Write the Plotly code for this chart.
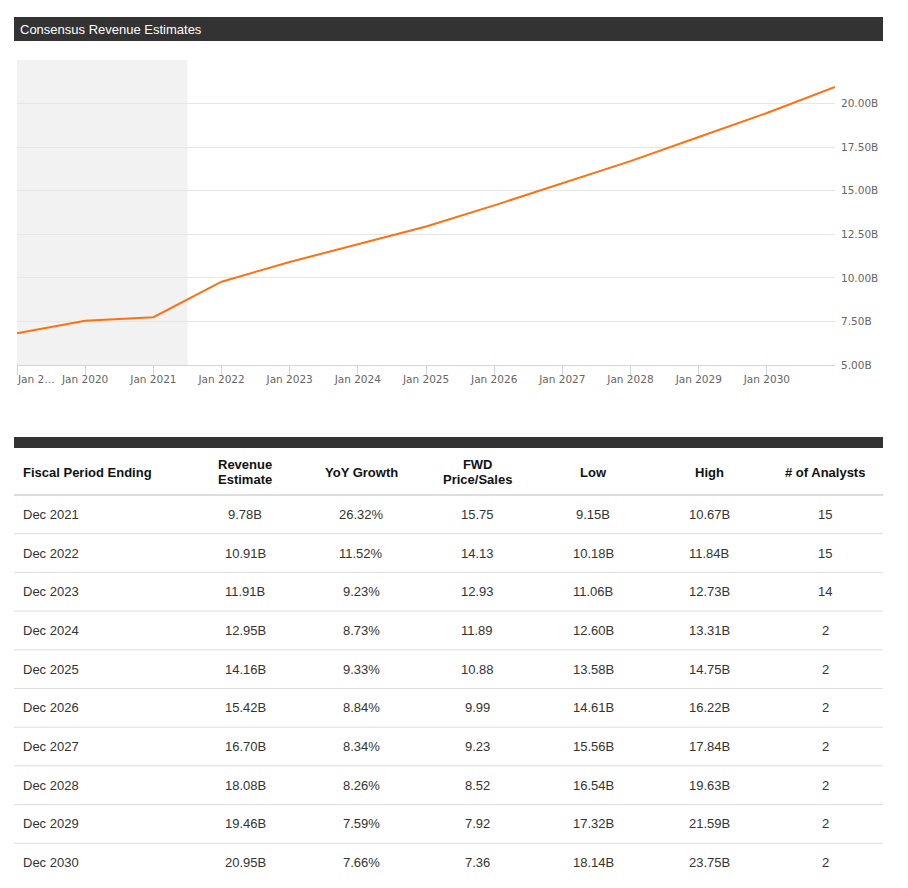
import plotly.graph_objects as go

# page body has an 8px margin; figure sized so the page fits inside the 908x888 window
OFF = 8
W, H = 908 - 2 * OFF, 866

# ---------------- data ----------------
period_dates = ["2018-12-31", "2019-12-31", "2020-12-31", "2021-12-31", "2022-12-31",
                "2023-12-31", "2024-12-31", "2025-12-31", "2026-12-31", "2027-12-31",
                "2028-12-31", "2029-12-31", "2030-12-31"]
revenue_b = [6.82, 7.54, 7.74, 9.78, 10.91, 11.91, 12.95, 14.16, 15.42, 16.70, 18.08, 19.46, 20.95]

x_tickvals = ["2018-12-31", "2019-12-31", "2020-12-31", "2021-12-31", "2022-12-31",
              "2023-12-31", "2024-12-31", "2025-12-31", "2026-12-31", "2027-12-31",
              "2028-12-31", "2029-12-31"]
x_ticktext = ["", "Jan 2020", "Jan 2021", "Jan 2022", "Jan 2023", "Jan 2024",
              "Jan 2025", "Jan 2026", "Jan 2027", "Jan 2028", "Jan 2029", "Jan 2030"]
first_tick_label = "Jan 2…"
y_tickvals = [5, 7.5, 10, 12.5, 15, 17.5, 20]
y_ticktext = ["5.00B", "7.50B", "10.00B", "12.50B", "15.00B", "17.50B", "20.00B"]

headers = ["Fiscal Period Ending", "Revenue<br>Estimate", "YoY Growth", "FWD<br>Price/Sales",
           "Low", "High", "# of Analysts"]
fiscal_period = ["Dec 2021", "Dec 2022", "Dec 2023", "Dec 2024", "Dec 2025",
                 "Dec 2026", "Dec 2027", "Dec 2028", "Dec 2029", "Dec 2030"]
rev_estimate = ["9.78B", "10.91B", "11.91B", "12.95B", "14.16B",
                "15.42B", "16.70B", "18.08B", "19.46B", "20.95B"]
yoy_growth = ["26.32%", "11.52%", "9.23%", "8.73%", "9.33%",
              "8.84%", "8.34%", "8.26%", "7.59%", "7.66%"]
fwd_ps = ["15.75", "14.13", "12.93", "11.89", "10.88", "9.99", "9.23", "8.52", "7.92", "7.36"]
low_est = ["9.15B", "10.18B", "11.06B", "12.60B", "13.58B",
           "14.61B", "15.56B", "16.54B", "17.32B", "18.14B"]
high_est = ["10.67B", "11.84B", "12.73B", "13.31B", "14.75B",
            "16.22B", "17.84B", "19.63B", "21.59B", "23.75B"]
n_analysts = ["15", "15", "14", "2", "2", "2", "2", "2", "2", "2"]

# ---------------- helpers (window pixel -> paper) ----------------
def px(x):
    return (x - OFF) / W

def py(y):
    return 1 - (y - OFF) / H

fig = go.Figure()

fig.add_trace(go.Scatter(
    x=period_dates, y=revenue_b, mode="lines",
    line=dict(color="#ff7010", width=2), hoverinfo="skip", showlegend=False,
))

axis_font = dict(family="DejaVu Sans, Verdana, sans-serif", size=10.5, color="#666666")

fig.update_layout(
    width=W, height=H,
    margin=dict(l=0, r=0, t=0, b=0, pad=0, autoexpand=False),
    paper_bgcolor="white", plot_bgcolor="rgba(0,0,0,0)",
    showlegend=False,
    xaxis=dict(
        domain=[px(17), px(835)], type="date",
        range=["2018-12-31", "2030-12-31"],
        tickvals=x_tickvals, ticktext=x_ticktext,
        showgrid=False, zeroline=False,
        showline=True, linecolor="#ccd6eb", linewidth=1,
        ticks="outside", ticklen=9, tickcolor="#ccd6eb", tickwidth=1,
        tickfont=axis_font, fixedrange=True, ticklabelstandoff=-5,
    ),
    yaxis=dict(
        domain=[py(365), py(60)], side="right",
        range=[5, 22.5],
        tickvals=y_tickvals, ticktext=y_ticktext,
        showgrid=True, gridcolor="#e6e6e6", gridwidth=1,
        zeroline=False, showline=False, ticks="",
        tickfont=axis_font, fixedrange=True, ticklabelstandoff=5,
    ),
)

shapes = []
# shaded historical band
shapes.append(dict(type="rect", xref="x", yref="y domain",
                   x0="2018-12-31", x1="2021-07-02", y0=0, y1=1,
                   fillcolor="#f2f2f2", line=dict(width=0), layer="below"))
# title bar
shapes.append(dict(type="rect", xref="paper", yref="paper",
                   x0=px(14), x1=px(883), y0=py(41), y1=py(17),
                   fillcolor="#333333", line=dict(width=0)))
# table top bar
shapes.append(dict(type="rect", xref="paper", yref="paper",
                   x0=px(14), x1=px(883), y0=py(448), y1=py(437),
                   fillcolor="#333333", line=dict(width=0)))
# header bottom border
shapes.append(dict(type="line", xref="paper", yref="paper",
                   x0=px(14), x1=px(883), y0=py(495), y1=py(495),
                   line=dict(color="#dddddd", width=2)))

annotations = []
annotations.append(dict(text="Consensus Revenue Estimates", xref="paper", yref="paper",
                        x=px(18), y=py(29), xanchor="left", yanchor="middle",
                        showarrow=False,
                        font=dict(family="Liberation Sans, Arial, sans-serif", size=13, color="white")))
# first (truncated) x tick label, left-aligned at its tick like the original
annotations.append(dict(text=first_tick_label, xref="x", yref="paper",
                        x=x_tickvals[0], y=py(379), xanchor="left", yanchor="middle",
                        xshift=-2, showarrow=False, font=axis_font))

col_x = [21, 245, 361, 477, 593, 709, 825]
for i, h in enumerate(headers):
    two_line = "<br>" in h
    # two-line headers: tighter line pitch (annotation font sets the line spacing)
    txt = "<b><span style='font-size:13px'>" + h.replace(
        "<br>", "</span></b><br><b><span style='font-size:13px'>") + "</span></b>"
    annotations.append(dict(text=txt, xref="paper", yref="paper",
                            x=px(col_x[i]), y=py(472),
                            xanchor="left" if i == 0 else "center", yanchor="middle",
                            align="left" if i == 0 else "center",
                            showarrow=False,
                            font=dict(family="Liberation Sans, Arial, sans-serif",
                                      size=11.5 if two_line else 13, color="#111111")))

cell_font = dict(family="Liberation Sans, Arial, sans-serif", size=13, color="#333333")
columns = [fiscal_period, rev_estimate, yoy_growth, fwd_ps, low_est, high_est, n_analysts]
row_top = 495
row_h = 38.7
for r in range(len(fiscal_period)):
    yc = row_top + row_h * (r + 0.5)
    for c, col in enumerate(columns):
        annotations.append(dict(text=col[r], xref="paper", yref="paper",
                                x=px(col_x[c]), y=py(yc),
                                xanchor="left" if c == 0 else "center", yanchor="middle",
                                showarrow=False, font=cell_font))
    if r < len(fiscal_period) - 1:
        yl = row_top + row_h * (r + 1)
        shapes.append(dict(type="line", xref="paper", yref="paper",
                           x0=px(14), x1=px(883), y0=py(yl), y1=py(yl),
                           line=dict(color="#dddddd", width=1)))

fig.update_layout(shapes=shapes, annotations=annotations)

fig.write_html("out.html", config={"displayModeBar": False})
